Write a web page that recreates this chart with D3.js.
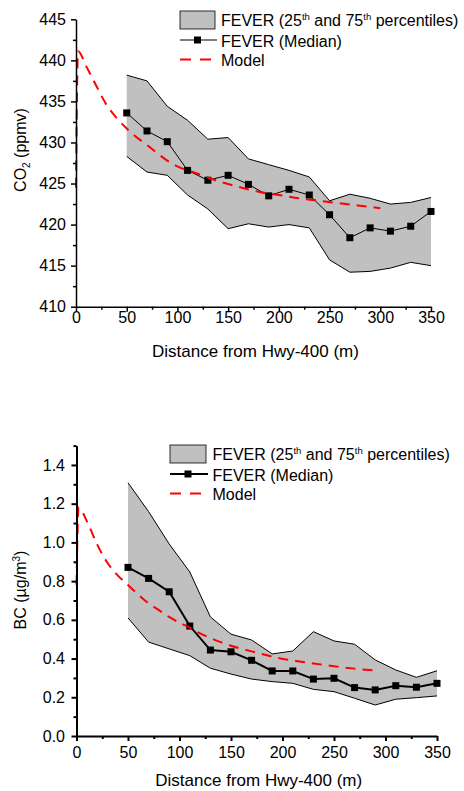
<!DOCTYPE html>
<html>
<head>
<meta charset="utf-8">
<script src="https://cdn.jsdelivr.net/npm/d3@7"></script>
<style>
body { margin: 0; background: #fff; }
svg text { font-family: "Liberation Sans", Arial, sans-serif; fill: #000; }
</style>
</head>
<body>
<svg id="chart" width="464" height="791"></svg>
<script>
// sampling distances (m)
var distance = [50, 70, 90, 110, 130, 150, 170, 190, 210, 230, 250, 270, 290, 310, 330, 350];

// CO2 panel
var co2Median = [433.6, 431.4, 430.1, 426.6, 425.4, 426.0, 424.9, 423.5, 424.3, 423.6, 421.2, 418.4, 419.6, 419.2, 419.8, 421.6];
var co2P75 = [438.2, 437.5, 434.4, 432.7, 430.4, 430.6, 428.0, 427.3, 426.6, 425.8, 422.9, 423.7, 423.2, 422.5, 422.7, 423.3];
var co2P25 = [428.3, 426.4, 426.0, 423.6, 421.9, 419.5, 420.1, 419.7, 420.0, 419.6, 415.7, 414.2, 414.3, 414.7, 415.4, 415.0];
var co2ModelX = [0, 2, 10, 20, 30, 40, 50, 60, 70, 80, 90, 100, 120, 140, 160, 180, 200, 220, 240, 260, 280, 300];
var co2Model = [424.5, 441.1, 439.3, 436.9, 434.6, 433.0, 431.7, 430.6, 429.7, 428.7, 427.8, 427.1, 426.2, 425.3, 424.6, 424.0, 423.6, 423.2, 422.9, 422.6, 422.3, 422.0];
var co2Ticks = [410, 415, 420, 425, 430, 435, 440, 445];

// BC panel
var bcMedian = [0.871, 0.814, 0.745, 0.568, 0.444, 0.435, 0.391, 0.336, 0.336, 0.294, 0.298, 0.250, 0.238, 0.260, 0.252, 0.272];
var bcP75 = [1.308, 1.159, 0.992, 0.847, 0.615, 0.526, 0.496, 0.424, 0.439, 0.539, 0.491, 0.474, 0.393, 0.341, 0.303, 0.337];
var bcP25 = [0.610, 0.485, 0.450, 0.415, 0.350, 0.320, 0.294, 0.281, 0.272, 0.241, 0.229, 0.195, 0.160, 0.190, 0.198, 0.207];
var bcModelX = [0, 2, 10, 20, 30, 40, 50, 60, 70, 80, 90, 100, 110, 120, 130, 140, 150, 170, 190, 210, 230, 250, 270, 290];
var bcModel = [0.78, 1.18, 1.11, 0.99, 0.895, 0.83, 0.78, 0.73, 0.685, 0.65, 0.615, 0.585, 0.56, 0.53, 0.506, 0.485, 0.466, 0.437, 0.41, 0.39, 0.375, 0.36, 0.348, 0.338];
var bcTicks = [0, 0.2, 0.4, 0.6, 0.8, 1.0, 1.2, 1.4];

var xTicks = [0, 50, 100, 150, 200, 250, 300, 350];
var xTitle = 'Distance from Hwy-400 (m)';

var svg = d3.select('#chart');

// draw one panel
function drawPanel(p) {
    var g = svg.append('g');

    var xScale = d3.scaleLinear()
        .domain([0, 350])
        .range([p.left, p.right]);
    var yScale = d3.scaleLinear()
        .domain(p.yDomain)
        .range([p.bottom, p.top]);

    var rows = distance.map(function(d, i) {
        return {d: d, med: p.median[i], hi: p.p75[i], lo: p.p25[i]};
    });

    // percentile band
    g.append('path')
        .datum(rows)
        .attr('fill', '#c0c0c0')
        .attr('d', d3.area()
            .x(function(d) { return xScale(d.d); })
            .y0(function(d) { return yScale(d.lo); })
            .y1(function(d) { return yScale(d.hi); }));

    ['hi', 'lo'].forEach(function(k) {
        g.append('path')
            .datum(rows)
            .attr('fill', 'none')
            .attr('stroke', '#000')
            .attr('stroke-width', 1)
            .attr('d', d3.line()
                .x(function(d) { return xScale(d.d); })
                .y(function(d) { return yScale(d[k]); }));
    });

    // median
    g.append('path')
        .datum(rows)
        .attr('fill', 'none')
        .attr('stroke', '#000')
        .attr('stroke-width', p.medWidth)
        .attr('d', d3.line()
            .x(function(d) { return xScale(d.d); })
            .y(function(d) { return yScale(d.med); }));

    g.selectAll('.marker')
        .data(rows)
        .enter().append('rect')
        .attr('x', function(d) { return xScale(d.d) - 3.5; })
        .attr('y', function(d) { return yScale(d.med) - 3.5; })
        .attr('width', 7)
        .attr('height', 7)
        .attr('fill', '#000');

    // model curve
    var model = p.modelX.map(function(d, i) { return [d, p.model[i]]; });
    g.append('path')
        .datum(model)
        .attr('fill', 'none')
        .attr('stroke', '#ff0000')
        .attr('stroke-width', 2)
        .attr('stroke-dasharray', '10,7')
        .attr('d', d3.line()
            .curve(d3.curveMonotoneX)
            .x(function(d) { return xScale(d[0]); })
            .y(function(d) { return yScale(d[1]); }));

    // minor ticks
    var xMinor = d3.range(25, 350, 50);
    var yMinor = p.yTicks.slice(0, -1).map(function(v, i) { return (v + p.yTicks[i + 1]) / 2; });
    if (p.yDomain[1] > p.yTicks[p.yTicks.length - 1]) yMinor.push(p.yDomain[1]);

    g.append('g')
        .attr('transform', 'translate(0,' + p.bottom + ')')
        .call(d3.axisBottom(xScale).tickValues(xMinor).tickSize(3).tickFormat(''))
        .call(function(a) { a.select('.domain').remove(); })
        .selectAll('line').attr('stroke-width', p.axisWidth);
    g.append('g')
        .attr('transform', 'translate(' + p.left + ',0)')
        .call(d3.axisLeft(yScale).tickValues(yMinor).tickSize(3).tickFormat(''))
        .call(function(a) { a.select('.domain').remove(); })
        .selectAll('line').attr('stroke-width', p.axisWidth);

    // main axes
    var xAxis = g.append('g')
        .attr('transform', 'translate(0,' + p.bottom + ')')
        .call(d3.axisBottom(xScale).tickValues(xTicks).tickSize(5).tickSizeOuter(0).tickPadding(p.xPad));
    var yAxis = g.append('g')
        .attr('transform', 'translate(' + p.left + ',0)')
        .call(d3.axisLeft(yScale).tickValues(p.yTicks).tickSize(5).tickSizeOuter(0).tickPadding(p.yPad).tickFormat(p.yFormat));

    [xAxis, yAxis].forEach(function(a) {
        a.select('.domain').attr('stroke-width', p.axisWidth);
        a.selectAll('line').attr('stroke-width', p.axisWidth);
        a.selectAll('text').attr('font-size', 16).attr('font-family', '"Liberation Sans", Arial, sans-serif');
    });

    // x title
    g.append('text')
        .attr('x', (p.left + p.right) / 2 + 2)
        .attr('y', p.xTitleY)
        .attr('text-anchor', 'middle')
        .attr('font-size', 17)
        .text(xTitle);

    // y title
    var yt = g.append('text')
        .attr('transform', 'translate(' + p.yTitleX + ',' + p.yTitleY + ') rotate(-90)')
        .attr('text-anchor', 'middle')
        .attr('font-size', 16);
    p.yTitle(yt);

    // legend
    var L = p.legend;
    g.append('rect')
        .attr('x', L.x).attr('y', L.y)
        .attr('width', L.w).attr('height', 18)
        .attr('fill', '#c0c0c0')
        .attr('stroke', '#000')
        .attr('stroke-width', 0.8);
    g.append('line')
        .attr('x1', L.x).attr('x2', L.x + L.w + 2)
        .attr('y1', L.y + 29).attr('y2', L.y + 29)
        .attr('stroke', '#000')
        .attr('stroke-width', p.medWidth);
    g.append('rect')
        .attr('x', L.x + L.w / 2 - 3.5).attr('y', L.y + 29 - 3.5)
        .attr('width', 7).attr('height', 7)
        .attr('fill', '#000');
    g.append('line')
        .attr('x1', L.x).attr('x2', L.x + L.w)
        .attr('y1', L.y + 48.5).attr('y2', L.y + 48.5)
        .attr('stroke', '#ff0000')
        .attr('stroke-width', 2)
        .attr('stroke-dasharray', '11,9');

    var t1 = g.append('text')
        .attr('x', L.tx).attr('y', L.y + 15)
        .attr('font-size', 16);
    t1.append('tspan').text('FEVER (25');
    t1.append('tspan').attr('font-size', 9.5).attr('dy', -6).text('th');
    t1.append('tspan').attr('dy', 6).text(' and 75');
    t1.append('tspan').attr('font-size', 9.5).attr('dy', -6).text('th');
    t1.append('tspan').attr('dy', 6).text(' percentiles)');

    g.append('text')
        .attr('x', L.tx).attr('y', L.y + 35.5)
        .attr('font-size', 16)
        .text('FEVER (Median)');
    g.append('text')
        .attr('x', L.tx).attr('y', L.y + 54.5)
        .attr('font-size', 16)
        .text('Model');
}

drawPanel({
    left: 76, right: 431, top: 19.3, bottom: 306.7,
    yDomain: [410, 445], yTicks: co2Ticks, yFormat: d3.format('d'),
    median: co2Median, p75: co2P75, p25: co2P25,
    modelX: co2ModelX, model: co2Model,
    medWidth: 1, axisWidth: 1.5,
    xPad: 0, yPad: 5,
    xTitleY: 357, yTitleX: 26, yTitleY: 150,
    yTitle: function(t) {
        t.append('tspan').text('CO');
        t.append('tspan').attr('font-size', 10).attr('dy', 4).text('2');
        t.append('tspan').attr('dy', -4).text(' (ppmv)');
    },
    legend: {x: 180, y: 11, w: 35, tx: 221}
});

drawPanel({
    left: 76.5, right: 437, top: 445.6, bottom: 736,
    yDomain: [0, 1.5], yTicks: bcTicks, yFormat: d3.format('.1f'),
    median: bcMedian, p75: bcP75, p25: bcP25,
    modelX: bcModelX, model: bcModel,
    medWidth: 2, axisWidth: 2,
    xPad: 6, yPad: 6.5,
    xTitleY: 786, yTitleX: 26, yTitleY: 590,
    yTitle: function(t) {
        t.append('tspan').text('BC (\u00b5g/m');
        t.append('tspan').attr('font-size', 10).attr('dy', -6).text('3');
        t.append('tspan').attr('dy', 6).text(')');
    },
    legend: {x: 170, y: 445, w: 36, tx: 212.5}
});
</script>
</body>
</html>
